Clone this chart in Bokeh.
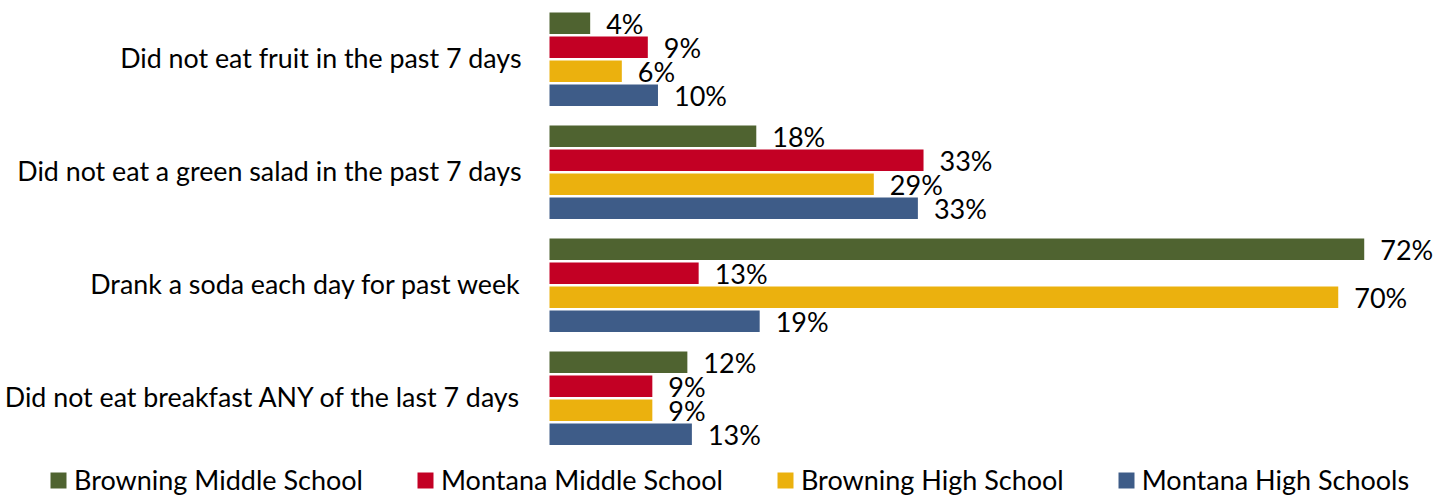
from bokeh.plotting import figure
from bokeh.models import ColumnDataSource, Range1d, Legend, LegendItem
from bokeh.transform import dodge
from bokeh.core.properties import value
from bokeh.embed import file_html
from bokeh.resources import INLINE

categories = [
    "Did not eat fruit in the past 7 days",
    "Did not eat a green salad in the past 7 days",
    "Drank a soda each day for past week",
    "Did not eat breakfast ANY of the last 7 days",
]
series_names = [
    "Browning Middle School",
    "Montana Middle School",
    "Browning High School",
    "Montana High Schools",
]
browning_ms = [3.6, 18.3, 72.1, 12.2]
montana_ms = [8.7, 33.1, 13.2, 9.1]
browning_hs = [6.4, 28.7, 69.8, 9.1]
montana_hs = [9.6, 32.6, 18.6, 12.6]
colors = ["#4F6330", "#C30024", "#EBB10E", "#3E5C88"]

FONT = "Lato"
FS = "27px"

series_values = [browning_ms, montana_ms, browning_hs, montana_hs]
ypos = list(range(1, len(categories) + 1))

W, H = 1450, 496
PX_PER_UNIT_X = 11.3
X0 = 549
PX_PER_GROUP = 113
Y_TOP = 1 - 58.7 / PX_PER_GROUP

p = figure(width=W, height=H, output_backend="svg", toolbar_location=None,
           x_range=Range1d(-X0 / PX_PER_UNIT_X, (W - X0) / PX_PER_UNIT_X),
           y_range=Range1d(start=Y_TOP + H / PX_PER_GROUP, end=Y_TOP),
           x_axis_location=None, y_axis_location=None,
           min_border=0)
p.outline_line_color = None
p.xgrid.visible = False
p.ygrid.visible = False
p.background_fill_color = "white"

step = 24 / PX_PER_GROUP
bar_h = 21.5 / PX_PER_GROUP
offsets = [-1.5 * step, -0.5 * step, 0.5 * step, 1.5 * step]

# category labels, right-aligned left of the bars' baseline
cat_src = ColumnDataSource(dict(y=ypos, x=[0] * len(ypos), lab=categories))
p.text(x="x", y="y", text="lab", source=cat_src, x_offset=-28, y_offset=-1,
       text_align="right", text_baseline="middle", text_font=value(FONT),
       text_font_size="26.8px", text_color="black")

items = []
for name, vals, col, off in zip(series_names, series_values, colors, offsets):
    src = ColumnDataSource(dict(y=ypos, v=vals, lab=[f"{round(v)}%" for v in vals]))
    r = p.hbar(y=dodge("y", off), right="v", left=0, height=bar_h, source=src,
               fill_color=col, line_color=None)
    p.text(x="v", y=dodge("y", off), text="lab", source=src, x_offset=16,
           text_align="left", text_baseline="middle", text_font=value(FONT),
           text_font_size=FS, text_color="black")
    items.append(LegendItem(label=name, renderers=[r]))

legend = Legend(items=items, orientation="horizontal", location=(48, 0),
                glyph_width=20, glyph_height=20, label_standoff=6, spacing=52,
                padding=0, margin=0, border_line_color=None,
                background_fill_alpha=0, label_text_font=FONT,
                label_text_font_size=FS, label_text_color="black")
p.add_layout(legend, "center")

open("out.html", "w").write(file_html(p, INLINE))
